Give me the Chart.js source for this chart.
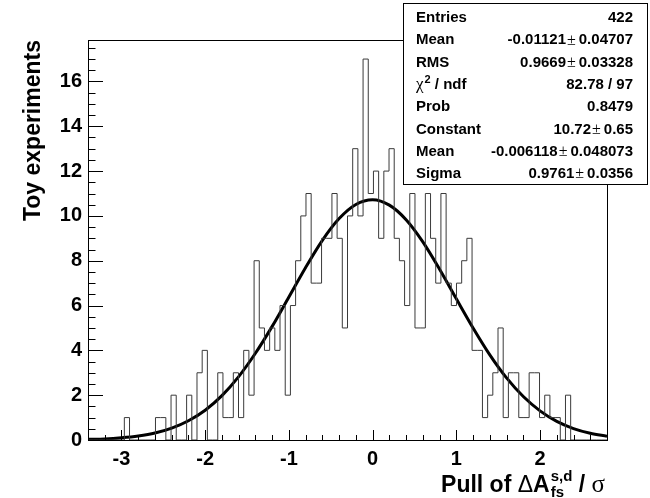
<!DOCTYPE html>
<html>
<head>
<meta charset="utf-8">
<script src="https://cdn.jsdelivr.net/npm/chart.js@4.4.0/dist/chart.umd.min.js"></script>
<style>
  html, body { margin: 0; padding: 0; background: #fff; }
  #wrap { width: 650px; height: 498px; }
</style>
</head>
<body>
<div id="wrap"><canvas id="pullChart" width="650" height="498"></canvas></div>
<script>
// histogram: 100 bins from binLow to binHigh
const binLow = -3.4;
const binHigh = 2.8;
const counts = [
  0, 0, 0, 0, 0, 0, 0, 1, 0, 0,
  0, 0, 0, 1, 1, 0, 2, 0, 0, 2,
  0, 3, 4, 0, 0, 3, 1, 1, 3, 1,
  4, 2, 8, 5, 4, 5, 4, 6, 2, 6,
  8, 10, 11, 7, 7, 9, 9, 11, 9, 5,
  10, 13, 10, 17, 11, 12, 9, 12, 13, 9,
  8, 6, 11, 5, 5, 11, 9, 7, 11, 7,
  6, 7, 8, 9, 4, 4, 1, 2, 3, 5,
  1, 3, 3, 1, 1, 3, 3, 1, 2, 1,
  1, 0, 2, 0, 0, 0, 0, 0, 0, 0
];

// gaussian fit curve
const fitX = [-3.4, -3.2, -3.0, -2.8, -2.6, -2.4, -2.2, -2.0, -1.8, -1.6, -1.4, -1.2, -1.0, -0.8, -0.6, -0.4,
  -0.2, 0, 0.2, 0.4, 0.6, 0.8, 1.0, 1.2, 1.4, 1.6, 1.8, 2.0, 2.2, 2.4, 2.6, 2.8];
const fitY = [0.03, 0.05, 0.10, 0.18, 0.31, 0.53, 0.86, 1.33, 1.98, 2.83, 3.87, 5.07, 6.38, 7.70, 8.91, 9.88,
  10.51, 10.72, 10.48, 9.83, 8.84, 7.62, 6.30, 5.00, 3.80, 2.77, 1.94, 1.30, 0.83, 0.51, 0.30, 0.17];

const xTicks = [-3, -2, -1, 0, 1, 2];
const yTicks = [0, 2, 4, 6, 8, 10, 12, 14, 16];
const yMax = 17.85;

const statLabels = ['Entries', 'Mean', 'RMS', 'chi2', 'Prob', 'Constant', 'Mean', 'Sigma'];
const statValues = [
  ['422'],
  ['-0.01121', '0.04707'],
  ['0.9669', '0.03328'],
  ['82.78 / 97'],
  ['0.8479'],
  ['10.72', '0.65'],
  ['-0.006118', '0.048073'],
  ['0.9761', '0.0356']
];

const binWidth = (binHigh - binLow) / counts.length;
const histPoints = counts.map((c, i) => ({ x: binLow + i * binWidth, y: c }));
histPoints.push({ x: binHigh, y: counts[counts.length - 1] });
const fitPoints = fitX.map((x, i) => ({ x: x, y: fitY[i] }));

const SANS = 'Liberation Sans, Arial, sans-serif';
const SERIF = 'Liberation Serif, DejaVu Serif, serif';

// draw a list of [text, font, dy, gap] pieces, right aligned at xr
function drawPieces(ctx, pieces, xr, y) {
  let total = 0;
  pieces.forEach(p => { ctx.font = p[1]; total += ctx.measureText(p[0]).width + (p[3] || 0); });
  let x = xr - total;
  pieces.forEach(p => {
    ctx.font = p[1];
    ctx.fillText(p[0], x, y + (p[2] || 0));
    x += ctx.measureText(p[0]).width + (p[3] || 0);
  });
}

const rootStyle = {
  id: 'rootStyle',
  afterDatasetsDraw(chart) {
    const ctx = chart.ctx;
    const a = chart.chartArea;
    const xs = chart.scales.x, ys = chart.scales.y;
    ctx.save();
    ctx.strokeStyle = '#000';
    ctx.lineWidth = 1;
    ctx.strokeRect(a.left + 0.5, a.top + 0.5, a.right - a.left, a.bottom - a.top);

    // ticks, pointing inwards
    ctx.beginPath();
    for (let k = -17; k <= 14; k++) {
      const v = k * 0.2;
      const px = Math.round(xs.getPixelForValue(v)) + 0.5;
      const len = Math.abs(v - Math.round(v)) < 1e-6 ? 10 : 5;
      ctx.moveTo(px, a.bottom);
      ctx.lineTo(px, a.bottom - len);
    }
    for (let k = 0; k <= 35; k++) {
      const v = k * 0.5;
      const py = Math.round(ys.getPixelForValue(v)) + 0.5;
      const len = v % 2 === 0 ? 15 : 7.5;
      ctx.moveTo(a.left, py);
      ctx.lineTo(a.left + len, py);
    }
    ctx.stroke();

    ctx.fillStyle = '#000';
    // y title
    ctx.save();
    ctx.translate(34, a.top);
    ctx.rotate(-Math.PI / 2);
    ctx.font = 'bold 23px ' + SANS;
    ctx.textAlign = 'right';
    ctx.textBaseline = 'middle';
    ctx.fillText('Toy experiments', 0, 0);
    ctx.restore();

    // x title: Pull of ΔA_fs^{s,d} / σ
    ctx.textAlign = 'left';
    ctx.textBaseline = 'alphabetic';
    const big = 'bold 23px ' + SANS;
    const small = 'bold 15px ' + SANS;
    ctx.font = small;
    const subW = Math.max(ctx.measureText('fs').width, ctx.measureText('s,d').width);
    const pre = [['Pull of ', big], ['\u0394', '23px ' + SANS], ['A', big]];
    const post = [[' / ', big], ['\u03c3', '25px ' + SERIF]];
    let wPre = 0, wPost = 0;
    pre.forEach(p => { ctx.font = p[1]; wPre += ctx.measureText(p[0]).width; });
    post.forEach(p => { ctx.font = p[1]; wPost += ctx.measureText(p[0]).width; });
    const base = 492;
    let x = 605 - (wPre + subW + 1 + wPost);
    pre.forEach(p => { ctx.font = p[1]; ctx.fillText(p[0], x, base); x += ctx.measureText(p[0]).width; });
    ctx.font = small;
    ctx.fillText('s,d', x + 1, base - 11);
    ctx.fillText('fs', x + 1, base + 5);
    x += subW + 1;
    post.forEach(p => { ctx.font = p[1]; ctx.fillText(p[0], x, base); x += ctx.measureText(p[0]).width; });

    // stat box
    const bx = 403.5, by = 3.5, bw = 244, bh = 181;
    ctx.fillStyle = '#fff';
    ctx.fillRect(bx, by, bw, bh);
    ctx.strokeRect(bx, by, bw, bh);
    ctx.fillStyle = '#000';
    ctx.textBaseline = 'middle';
    const lab = 'bold 15px ' + SANS;
    const pm = '16px ' + SERIF;
    statLabels.forEach((l, i) => {
      const y = 18 + 22.3 * i;
      ctx.textAlign = 'left';
      if (l === 'chi2') {
        ctx.font = '17px ' + SERIF;
        ctx.fillText('\u03c7', 416, y);
        let cx = 416 + ctx.measureText('\u03c7').width + 1;
        ctx.font = 'bold 11px ' + SANS;
        ctx.fillText('2', cx, y - 5);
        cx += ctx.measureText('2').width;
        ctx.font = lab;
        ctx.fillText(' / ndf', cx, y);
      } else {
        ctx.font = lab;
        ctx.fillText(l, 416, y);
      }
      const v = statValues[i];
      const pieces = v.length > 1
        ? [[v[0], lab, 0, 1], ['\u00b1', pm, 0, 3], [v[1], lab]]
        : [[v[0], lab]];
      drawPieces(ctx, pieces, 633, y);
    });
    ctx.restore();
  }
};

const ctx = document.getElementById('pullChart').getContext('2d');
new Chart(ctx, {
  type: 'line',
  data: {
    datasets: [
      {
        label: 'Pull',
        data: histPoints,
        stepped: true,
        borderColor: '#3a3a3a',
        borderWidth: 1,
        pointRadius: 0,
        fill: false
      },
      {
        label: 'Gaussian fit',
        data: fitPoints,
        cubicInterpolationMode: 'monotone',
        borderColor: '#000',
        borderWidth: 3,
        pointRadius: 0,
        fill: false
      }
    ]
  },
  options: {
    responsive: false,
    animation: false,
    layout: { padding: { left: 0, right: 43, top: 40, bottom: 0 } },
    plugins: { legend: { display: false }, tooltip: { enabled: false } },
    scales: {
      x: {
        type: 'linear',
        min: binLow,
        max: binHigh,
        grid: { display: false, drawTicks: false },
        border: { display: false },
        ticks: {
          color: '#000',
          padding: 7,
          maxRotation: 0,
          font: { family: SANS, weight: 'bold', size: 20 }
        },
        afterBuildTicks: s => { s.ticks = xTicks.map(v => ({ value: v })); },
        afterFit: s => { s.height = 58; }
      },
      y: {
        min: 0,
        max: yMax,
        grid: { display: false, drawTicks: false },
        border: { display: false },
        ticks: {
          color: '#000',
          padding: 6,
          font: { family: SANS, weight: 'bold', size: 20 }
        },
        afterBuildTicks: s => { s.ticks = yTicks.map(v => ({ value: v })); },
        afterFit: s => { s.width = 88; }
      }
    }
  },
  plugins: [rootStyle]
});
</script>
</body>
</html>
